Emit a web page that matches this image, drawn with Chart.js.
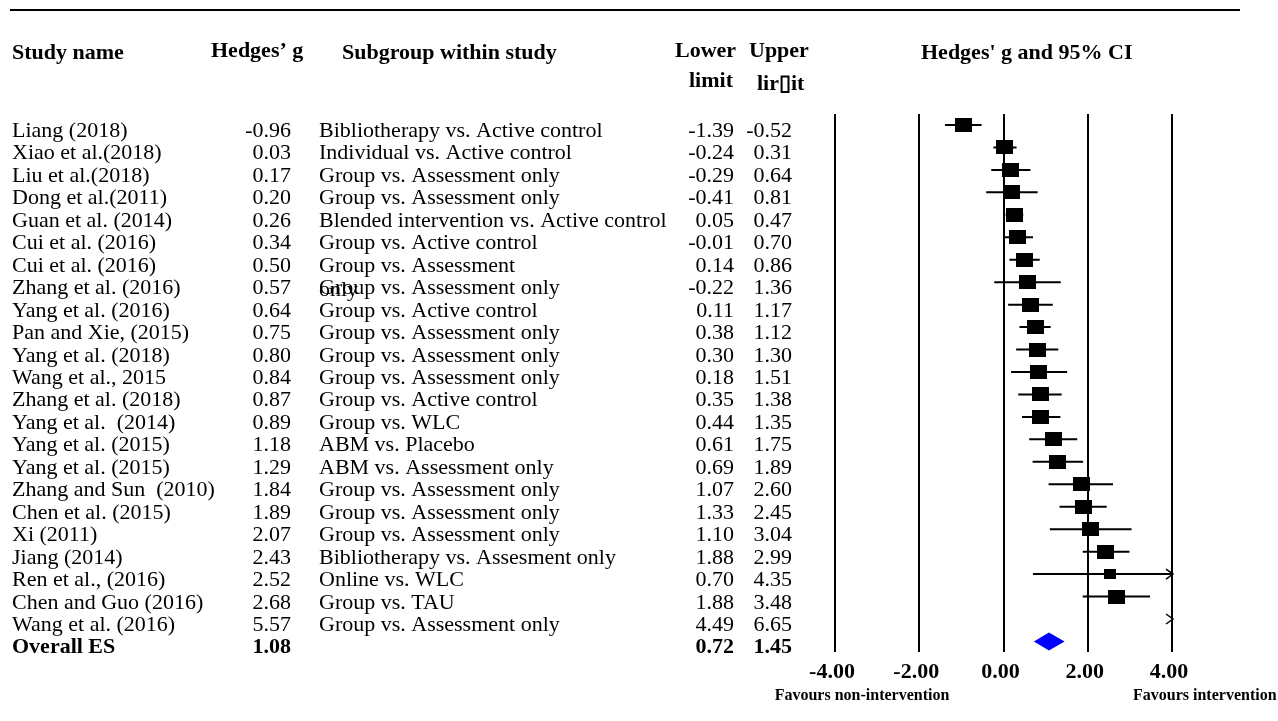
<!DOCTYPE html>
<html>
<head>
<meta charset="utf-8">
<title>Forest plot - Hedges' g</title>
<script src="https://cdn.jsdelivr.net/npm/chart.js@4.4.1/dist/chart.umd.min.js"></script>
<style>
    html, body { margin: 0; padding: 0; background: #fff; }
    #forest { display: block; }
</style>
</head>
<body>
<canvas id="forest" width="1278" height="721"></canvas>
<script>
const studies = [
    'Liang (2018)', 'Xiao et al.(2018)', 'Liu et al.(2018)', 'Dong et al.(2011)',
    'Guan et al. (2014)', 'Cui et al. (2016)', 'Cui et al. (2016)', 'Zhang et al. (2016)',
    'Yang et al. (2016)', 'Pan and Xie, (2015)', 'Yang et al. (2018)', 'Wang et al., 2015',
    'Zhang et al. (2018)', 'Yang et al.  (2014)', 'Yang et al. (2015)', 'Yang et al. (2015)',
    'Zhang and Sun  (2010)', 'Chen et al. (2015)', 'Xi (2011)', 'Jiang (2014)',
    'Ren et al., (2016)', 'Chen and Guo (2016)', 'Wang et al. (2016)'
];
const subgroups = [
    'Bibliotherapy vs. Active control', 'Individual vs. Active control', 'Group vs. Assessment only',
    'Group vs. Assessment only', 'Blended intervention vs. Active control', 'Group vs. Active control',
    'Group vs. Assessment', 'Group vs. Assessment only', 'Group vs. Active control',
    'Group vs. Assessment only', 'Group vs. Assessment only', 'Group vs. Assessment only',
    'Group vs. Active control', 'Group vs. WLC', 'ABM vs. Placebo', 'ABM vs. Assessment only',
    'Group vs. Assessment only', 'Group vs. Assessment only', 'Group vs. Assessment only',
    'Bibliotherapy vs. Assesment only', 'Online vs. WLC', 'Group vs. TAU', 'Group vs. Assessment only'
];
const hedgesG = [-0.96, 0.03, 0.17, 0.20, 0.26, 0.34, 0.50, 0.57, 0.64, 0.75, 0.80, 0.84,
    0.87, 0.89, 1.18, 1.29, 1.84, 1.89, 2.07, 2.43, 2.52, 2.68, 5.57];
const lowerLimit = [-1.39, -0.24, -0.29, -0.41, 0.05, -0.01, 0.14, -0.22, 0.11, 0.38, 0.30, 0.18,
    0.35, 0.44, 0.61, 0.69, 1.07, 1.33, 1.10, 1.88, 0.70, 1.88, 4.49];
const upperLimit = [-0.52, 0.31, 0.64, 0.81, 0.47, 0.70, 0.86, 1.36, 1.17, 1.12, 1.30, 1.51,
    1.38, 1.35, 1.75, 1.89, 2.60, 2.45, 3.04, 2.99, 4.35, 3.48, 6.65];
const overall = { label: 'Overall ES', g: 1.08, lower: 0.72, upper: 1.45 };
const xTicks = [-4, -2, 0, 2, 4];

const SERIF = "'Liberation Serif', 'Times New Roman', serif";

// little canvases used as point styles for the study boxes
function makeBox(w, h) {
    const c = document.createElement('canvas');
    c.width = w;
    c.height = h;
    const g = c.getContext('2d');
    g.fillStyle = '#000';
    g.fillRect(0, 0, w, h);
    return c;
}
const bigBox = makeBox(17, 14);
const smallBox = makeBox(12, 10);

// CI segments, separated by null points so the line breaks between rows
const ciPoints = [];
hedgesG.forEach((g, i) => {
    ciPoints.push({ x: lowerLimit[i], y: i });
    ciPoints.push({ x: upperLimit[i], y: i });
    ciPoints.push({ x: null, y: null });
});
const boxPoints = hedgesG.map((g, i) => ({ x: g, y: i }));
const overallRow = studies.length;

const tablePlugin = {
    id: 'forestTable',
    afterDraw(chart) {
        const ctx = chart.ctx;
        const xs = chart.scales.x;
        const ys = chart.scales.y;
        ctx.save();
        ctx.fillStyle = '#000';
        ctx.strokeStyle = '#000';

        // top rule
        ctx.lineWidth = 2;
        ctx.beginPath();
        ctx.moveTo(10, 10);
        ctx.lineTo(1240, 10);
        ctx.stroke();

        // headers
        ctx.font = 'bold 22px ' + SERIF;
        ctx.textAlign = 'left';
        ctx.textBaseline = 'alphabetic';
        ctx.fillText('Study name', 12, 59);
        ctx.fillText('Hedges\u2019 g', 211, 57);
        ctx.fillText('Subgroup within study', 342, 59);
        ctx.fillText('Lower', 675, 57);
        ctx.fillText('limit', 689, 87);
        ctx.fillText('Upper', 749, 57);
        ctx.fillText('lir\u25AFit', 757, 90);
        ctx.fillText("Hedges' g and 95% CI", 921, 59);

        // study rows
        ctx.font = '22px ' + SERIF;
        studies.forEach((name, i) => {
            const y = ys.getPixelForValue(i) + 12;
            ctx.textAlign = 'left';
            ctx.fillText(name, 12, y);
            ctx.fillText(subgroups[i], 319, y);
            ctx.textAlign = 'right';
            ctx.fillText(hedgesG[i].toFixed(2), 291, y);
            ctx.fillText(lowerLimit[i].toFixed(2), 734, y);
            ctx.fillText(upperLimit[i].toFixed(2), 792, y);
        });
        // wrapped word spilling into the next row, as in the original
        ctx.textAlign = 'left';
        ctx.fillText('only', 319, ys.getPixelForValue(7) + 14);

        // overall row
        const oy = ys.getPixelForValue(overallRow) + 12;
        ctx.font = 'bold 22px ' + SERIF;
        ctx.fillText(overall.label, 12, oy);
        ctx.textAlign = 'right';
        ctx.fillText(overall.g.toFixed(2), 291, oy);
        ctx.fillText(overall.lower.toFixed(2), 734, oy);
        ctx.fillText(overall.upper.toFixed(2), 792, oy);

        // overall diamond
        const dy = ys.getPixelForValue(overallRow);
        ctx.fillStyle = '#0000ff';
        ctx.beginPath();
        ctx.moveTo(xs.getPixelForValue(overall.lower), dy);
        ctx.lineTo(xs.getPixelForValue(overall.g), dy - 9);
        ctx.lineTo(xs.getPixelForValue(overall.upper), dy);
        ctx.lineTo(xs.getPixelForValue(overall.g), dy + 9);
        ctx.closePath();
        ctx.fill();

        // arrows for intervals running past the axis
        ctx.strokeStyle = '#000';
        ctx.lineWidth = 1.5;
        upperLimit.forEach((u, i) => {
            if (u <= xs.max) return;
            const ax = xs.getPixelForValue(xs.max) + 1;
            const ay = ys.getPixelForValue(i);
            ctx.beginPath();
            ctx.moveTo(ax - 7, ay - 5);
            ctx.lineTo(ax, ay);
            ctx.lineTo(ax - 7, ay + 5);
            ctx.stroke();
        });

        // favours labels
        ctx.fillStyle = '#000';
        ctx.font = 'bold 16px ' + SERIF;
        ctx.textAlign = 'center';
        ctx.fillText('Favours non-intervention', 862, 700);
        ctx.textAlign = 'left';
        ctx.fillText('Favours intervention', 1133, 700);
        ctx.restore();
    }
};

const ctx = document.getElementById('forest').getContext('2d');
const forestChart = new Chart(ctx, {
    type: 'scatter',
    data: {
        datasets: [
            {
                label: '95% CI',
                data: ciPoints,
                showLine: true,
                spanGaps: false,
                borderColor: '#000',
                borderWidth: 2,
                pointRadius: 0,
                pointHoverRadius: 0
            },
            {
                label: "Hedges' g",
                data: boxPoints,
                pointStyle: (c) => (upperLimit[c.dataIndex] - lowerLimit[c.dataIndex] > 3 ? smallBox : bigBox),
                pointRadius: 8,
                backgroundColor: '#000'
            }
        ]
    },
    options: {
        responsive: false,
        animation: false,
        events: [],
        layout: {
            padding: { left: 835, right: 106, top: 114, bottom: 0 }
        },
        scales: {
            x: {
                type: 'linear',
                min: -4,
                max: 4,
                afterBuildTicks: (scale) => {
                    scale.ticks = xTicks.map(v => ({ value: v }));
                },
                afterFit: (scale) => {
                    scale.height = 69;
                },
                grid: {
                    color: '#000',
                    lineWidth: 2,
                    drawTicks: false
                },
                border: { display: false },
                ticks: {
                    color: '#000',
                    padding: 7,
                    labelOffset: -3,
                    font: { family: SERIF, size: 22, weight: 'bold' },
                    callback: (v) => Number(v).toFixed(2)
                }
            },
            y: {
                type: 'linear',
                display: false,
                reverse: true,
                min: -0.49,
                max: 23.47
            }
        },
        plugins: {
            legend: { display: false },
            tooltip: { enabled: false }
        }
    },
    plugins: [tablePlugin]
});
</script>
</body>
</html>
